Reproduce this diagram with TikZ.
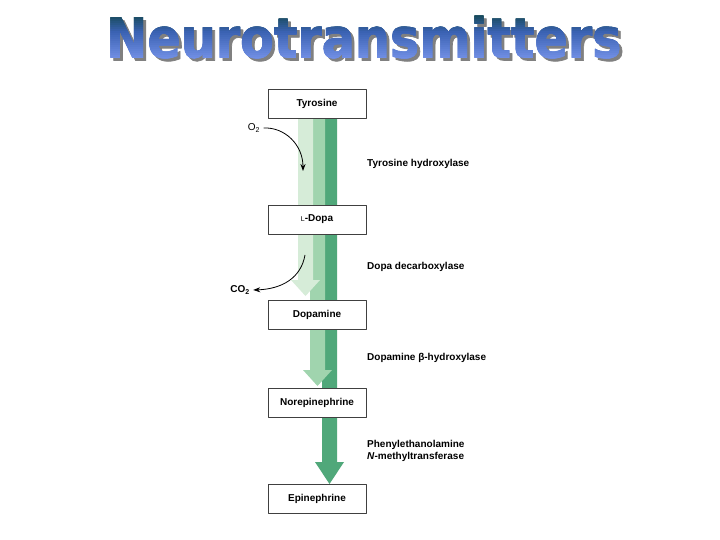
\documentclass[tikz,border=0pt]{standalone}
\usepackage{fontspec}
\setmainfont{Liberation Sans}
\newfontfamily\titlefont{DejaVu Sans}[BoldFeatures={FakeBold=1.4}]
\usetikzlibrary{arrows.meta, positioning}
\definecolor{titletop}{RGB}{16,70,74}
\definecolor{titlemid}{RGB}{58,98,178}
\definecolor{titlebot}{RGB}{112,142,228}
\definecolor{greenlight}{RGB}{214,236,216}
\definecolor{greenmid}{RGB}{160,212,174}
\definecolor{greendark}{RGB}{80,168,122}
\tikzset{
	compound/.style={draw=black!75, fill=white, line width=0.6pt, minimum width=98pt, minimum height=29pt, inner sep=0pt},
	enzyme/.style={anchor=west, align=left, inner sep=0pt},
	titletext/.style={inner sep=0pt, anchor=west, font=\titlefont\bfseries\fontsize{55}{55}\selectfont}
}
\newcommand{\titleword}{\scalebox{0.895}[1]{Neurotransmitters}}

\begin{document}
\begin{tikzpicture}[x=1pt, y=-1pt, line join=round, >={Stealth[length=7pt, angle'=40]}, every node/.style={font=\fontsize{10}{12}\selectfont\bfseries}]
	\useasboundingbox (0,0) rectangle (720,540);
	\fill[white] (0,0) rectangle (720,540);
	% title: shadow, then colour bands
	\node[titletext, text=black!50] (shadow) at (109,40) {\titleword};
	\foreach \i in {0,...,23}{
		\pgfmathsetmacro{\pct}{\i<10 ? 100-\i*10 : 100-(\i-10)*100/13}
		\ifnum\i<10
			\colorlet{bandcol}{titletop!\pct!titlemid}
		\else
			\colorlet{bandcol}{titlemid!\pct!titlebot}
		\fi
		\begin{scope}
			\clip (0,{12+2*\i}) rectangle (720,{14.2+2*\i});
			\node[titletext, text=bandcol] (title\i) at (106,37) {\titleword};
		\end{scope}
	}
	% block arrows
	\fill[greendark] (322,119) -- (337,119) -- (337,462) -- (344,462) -- (329.5,484)
		-- (315,462) -- (322,462) -- cycle;
	\fill[greenmid] (310,119) -- (325,119) -- (325,370) -- (332,370) -- (317.5,386)
		-- (303,370) -- (310,370) -- cycle;
	\fill[greenlight] (298,119) -- (313,119) -- (313,280) -- (320,280) -- (305.5,296)
		-- (291,280) -- (298,280) -- cycle;
	% compounds
	\node[compound] (tyr) at (317,104) {Tyrosine};
	\node[compound] (dopa) at (317,219.5) {{\mdseries\fontsize{7}{7}\selectfont L}-Dopa};
	\node[compound] (dopamine) at (317,314.5) {Dopamine};
	\node[compound] (nor) at (317,402.5) {Norepinephrine};
	\node[compound] (epi) at (317,499) {Epinephrine};
	% enzymes
	\node[enzyme] (th) at (367,164) {Tyrosine hydroxylase};
	\node[enzyme] (ddc) at (367,267) {Dopa decarboxylase};
	\node[enzyme] (dbh) at (367,358) {Dopamine β-hydroxylase};
	\node[enzyme] (pnmt) at (367,451) {Phenylethanolamine\\\textit{N}-methyltransferase};
	% oxygen in, carbon dioxide out
	\node[font=\fontsize{10}{10}\selectfont] (o2) at (254,128) {O\textsubscript{2}};
	\coordinate (o2end) at (303,171);
	\draw[thick, ->] (o2.east) .. controls (285,127) and (303,145) .. (o2end);
	\node (co2) at (240,290) {CO\textsubscript{2}};
	\coordinate (co2start) at (305,255);
	\draw[thick, ->] (co2start) .. controls (301,278) and (282,289) .. (co2.east);
\end{tikzpicture}
\end{document}
